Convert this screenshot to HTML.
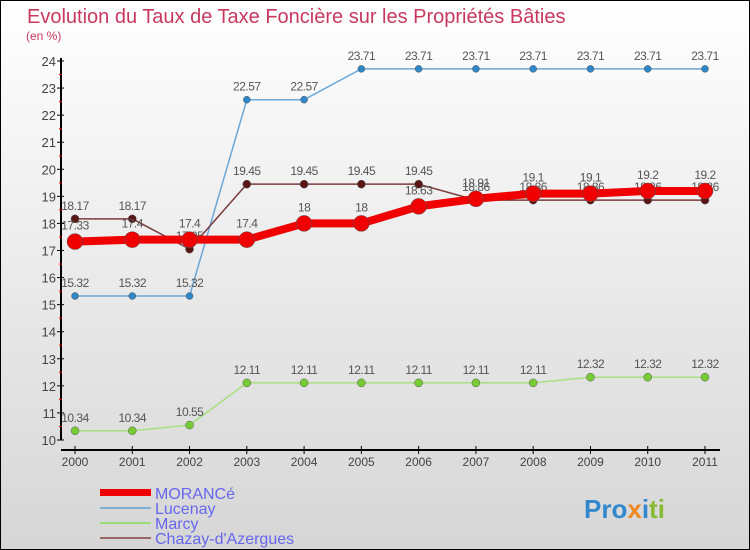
<!DOCTYPE html>
<html><head><meta charset="utf-8"><style>
body{margin:0;width:750px;height:550px;overflow:hidden;font-family:"Liberation Sans",sans-serif}
svg{display:block}
</style></head><body>
<svg width="750" height="550">
<defs><linearGradient id="bg" x1="0" y1="0" x2="0" y2="1"><stop offset="0" stop-color="#ffffff"/><stop offset="1" stop-color="#d6d6d6"/></linearGradient></defs>
<rect x="0.5" y="0.5" width="749" height="549" fill="url(#bg)" stroke="#000"/>
<text x="27" y="23" font-size="20" fill="#c8385f">Evolution du Taux de Taxe Foncière sur les Propriétés Bâties</text>
<text x="26" y="40" font-size="12" fill="#c8385f">(en %)</text>
<g id="axes"></g>
<g id="series"></g>
<g id="legend">
<rect x="100" y="489" width="51" height="7" fill="#f00000"/>
<text x="155" y="499" font-size="16" fill="#6666ee">MORANCé</text>
<line x1="100" y1="508" x2="151" y2="508" stroke="#7eaed0" stroke-width="2"/>
<text x="155" y="514" font-size="16" fill="#6666ee">Lucenay</text>
<line x1="100" y1="523" x2="151" y2="523" stroke="#99dd77" stroke-width="2"/>
<text x="155" y="529" font-size="16" fill="#6666ee">Marcy</text>
<line x1="100" y1="538" x2="151" y2="538" stroke="#996666" stroke-width="2"/>
<text x="155" y="544" font-size="16" fill="#6666ee">Chazay-d'Azergues</text>
</g>
<text x="584" y="518" font-size="26" font-weight="bold"><tspan fill="#3388cc">Pro</tspan><tspan fill="#ee8822">x</tspan><tspan fill="#3388cc">i</tspan><tspan fill="#88bb33">ti</tspan></text>
</svg>
<script>
const years=[2000,2001,2002,2003,2004,2005,2006,2007,2008,2009,2010,2011];
const morance=[17.33,17.4,17.4,17.4,18,18,18.63,18.91,19.1,19.1,19.2,19.2];
const lucenay=[15.32,15.32,15.32,22.57,22.57,23.71,23.71,23.71,23.71,23.71,23.71,23.71];
const marcy=[10.34,10.34,10.55,12.11,12.11,12.11,12.11,12.11,12.11,12.32,12.32,12.32];
const chazay=[18.17,18.17,17.05,19.45,19.45,19.45,19.45,18.86,18.86,18.86,18.86,18.86];
const yTicks=[10,11,12,13,14,15,16,17,18,19,20,21,22,23,24];
const NS="http://www.w3.org/2000/svg";
const X=i=>75+i*(705-75)/(years.length-1);
const Y=v=>440-(v-10)*(440-61)/14;
function mk(t,a,p){const e=document.createElementNS(NS,t);for(const k in a)e.setAttribute(k,a[k]);p.appendChild(e);return e;}
const ax=document.getElementById('axes');
let yl=mk('line',{x1:61,y1:58,x2:61,y2:440,stroke:'#000','stroke-width':2},ax);


let xl=mk('line',{x1:61,y1:450,x2:720,y2:450,stroke:'#000','stroke-width':2},ax);


yTicks.forEach(v=>{
  mk('line',{x1:57,y1:Y(v),x2:64,y2:Y(v),stroke:'#000'},ax);
  if(v<24)mk('line',{x1:59,y1:Y(v+0.5),x2:62,y2:Y(v+0.5),stroke:'#e00'},ax);
  const t=mk('text',{x:56,y:Y(v)+5,'text-anchor':'end','font-size':13,fill:'#444'},ax);t.textContent=v;
  
  
});
years.forEach((y,i)=>{
  mk('line',{x1:X(i),y1:446,x2:X(i),y2:454,stroke:'#000'},ax);
  const t=mk('text',{x:X(i),y:466,'text-anchor':'middle','font-size':12,fill:'#444'},ax);t.textContent=y;
  
  
});
const sg=document.getElementById('series');
function series(data,name,color,lw,r,dot,off){
  const g=mk('g',{},sg);
  
  
  mk('polyline',{points:data.map((v,i)=>X(i)+','+Y(v)).join(' '),fill:'none',stroke:color,'stroke-width':lw,'stroke-linejoin':'round'},g);
  data.forEach((v,i)=>{
    const c=mk('circle',{cx:X(i),cy:Y(v),r:r,fill:dot,stroke:'#555','stroke-width':0.5},g);
    
    
    const t=mk('text',{x:X(i),y:Y(v)-off,'text-anchor':'middle','font-size':12,fill:'#555','letter-spacing':'-0.5'},g);
    t.textContent=v;
    
    
  });
}
series(lucenay,'lucenay','#6aa7d8',1.5,3.5,'#2f86c8',9);
series(marcy,'marcy','#a8e080',1.5,4,'#77cc33',9);
series(chazay,'chazay','#7a3a3a',1.5,4,'#5a1515',9);
series(morance,'morance','#f00000',8,8,'#f00000',12);
</script>
</body></html>
